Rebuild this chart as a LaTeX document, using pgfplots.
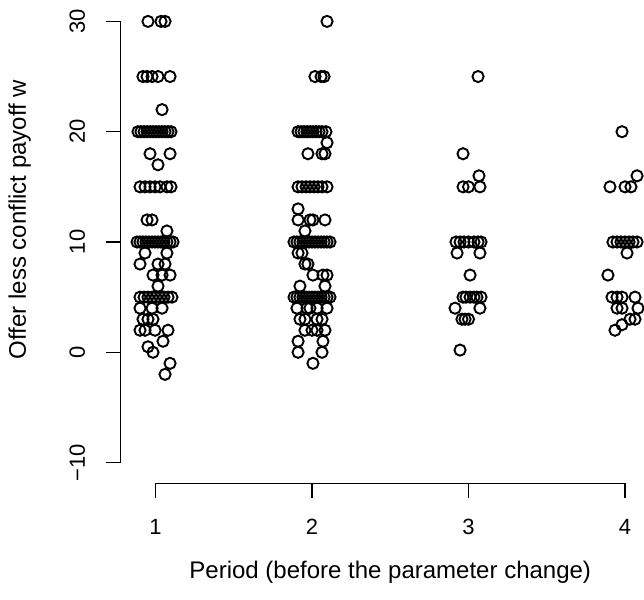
\documentclass[border=0pt]{standalone}
\usepackage{pgfplots}
\pgfplotsset{compat=1.18}
\usepackage{fontspec}
\setmainfont{Liberation Sans}
\begin{document}
\fontsize{22bp}{26bp}\selectfont
\begin{tikzpicture}
\begin{axis}[
  width=644bp, height=600bp, scale only axis,
  xmin=0.00639, xmax=4.1214, ymin=-22.457, ymax=31.94,
  axis lines=none, clip=false,
]
\addplot[only marks, mark=o, mark size=5.6bp, mark options={line width=1.9bp, black}] table {
x y
0.952 30
1.035 30
1.061 30
0.920 25
0.946 25
0.978 25
1.016 25
1.093 25
1.042 22
0.888 20
0.907 20
0.927 20
0.946 20
0.965 20
0.984 20
1.003 20
1.022 20
1.042 20
1.061 20
1.080 20
1.099 20
0.965 18
1.093 18
1.016 17
0.901 15
0.933 15
0.965 15
0.997 15
1.029 15
1.073 15
1.099 15
0.946 12
0.978 12
1.073 11
0.882 10
0.901 10
0.920 10
0.939 10
0.958 10
0.978 10
0.997 10
1.016 10
1.035 10
1.054 10
1.073 10
1.093 10
1.112 10
0.933 9
1.073 9
0.901 8
1.016 8
1.061 8
0.984 7
1.042 7
1.093 7
1.016 6
0.901 5
0.927 5
0.952 5
0.978 5
1.003 5
1.029 5
1.054 5
1.080 5
1.105 5
0.901 4
0.978 4
1.042 4
0.920 3
0.952 3
0.984 3
0.901 2
0.933 2
0.997 2
1.080 2
1.048 1
0.952 0.5
0.984 0
1.093 -1
1.061 -2
2.096 30
2.019 25
2.058 25
2.077 25
1.911 20
1.930 20
1.949 20
1.968 20
1.987 20
2.006 20
2.026 20
2.045 20
2.064 20
2.089 20
2.096 19
1.974 18
2.064 18
2.083 18
1.911 15
1.936 15
1.962 15
1.987 15
2.013 15
2.038 15
2.064 15
2.096 15
1.911 13
1.911 12
1.987 12
2.006 12
2.083 12
1.955 11
1.885 10
1.904 10
1.923 10
1.942 10
1.962 10
1.981 10
2.000 10
2.019 10
2.038 10
2.058 10
2.077 10
2.096 10
2.115 10
1.911 9
1.936 9
1.955 8
1.974 8
2.006 7
2.070 7
2.096 7
1.923 6
2.083 6
1.885 5
1.904 5
1.923 5
1.942 5
1.962 5
1.981 5
2.000 5
2.019 5
2.038 5
2.058 5
2.077 5
2.096 5
2.115 5
1.904 4
1.968 4
1.987 4
2.032 4
2.096 4
1.923 3
1.955 3
2.032 3
2.064 3
1.955 2
2.000 2
2.032 2
2.083 2
1.911 1
2.070 1
1.911 0
2.064 0
2.006 -1
3.061 25
2.965 18
3.067 16
2.965 15
3.000 15
3.073 15
2.920 10
2.946 10
2.971 10
3.000 10
3.035 10
3.061 10
3.080 10
2.927 9
3.073 9
3.010 7
2.965 5
2.984 5
3.010 5
3.035 5
3.054 5
3.080 5
2.914 4
3.073 4
2.958 3
2.978 3
3.000 3
2.946 0.2
3.981 20
4.077 16
3.904 15
4.000 15
4.038 15
3.923 10
3.949 10
3.974 10
4.000 10
4.026 10
4.051 10
4.077 10
4.013 9
3.891 7
3.917 5
3.949 5
3.981 5
4.064 5
3.949 4
3.981 4
4.083 4
4.032 3
4.064 3
3.981 2.5
3.936 2
};
% R-style axes
\draw[line width=1.5bp] (axis cs:0.7776,-10) -- (axis cs:0.7776,30);
\draw[line width=1.5bp] (axis cs:0.6818,-10) -- (axis cs:0.7776,-10);
\draw[line width=1.5bp] (axis cs:0.6818,0) -- (axis cs:0.7776,0);
\draw[line width=1.5bp] (axis cs:0.6818,10) -- (axis cs:0.7776,10);
\draw[line width=1.5bp] (axis cs:0.6818,20) -- (axis cs:0.7776,20);
\draw[line width=1.5bp] (axis cs:0.6818,30) -- (axis cs:0.7776,30);
\node[rotate=90, anchor=base, inner sep=0pt] at (axis cs:0.5495,-10) {\char"2212 10};
\node[rotate=90, anchor=base, inner sep=0pt] at (axis cs:0.5495,0) {0};
\node[rotate=90, anchor=base, inner sep=0pt] at (axis cs:0.5495,10) {10};
\node[rotate=90, anchor=base, inner sep=0pt] at (axis cs:0.5495,20) {20};
\node[rotate=90, anchor=base, inner sep=0pt] at (axis cs:0.5495,30) {30};
\draw[line width=1.5bp] (axis cs:1,-11.877) -- (axis cs:4,-11.877);
\draw[line width=1.5bp] (axis cs:1,-11.877) -- (axis cs:1,-13.237);
\draw[line width=1.5bp] (axis cs:2,-11.877) -- (axis cs:2,-13.237);
\draw[line width=1.5bp] (axis cs:3,-11.877) -- (axis cs:3,-13.237);
\draw[line width=1.5bp] (axis cs:4,-11.877) -- (axis cs:4,-13.237);
\node[anchor=base, inner sep=0pt] at (axis cs:1,-16.56) {1};
\node[anchor=base, inner sep=0pt] at (axis cs:2,-16.56) {2};
\node[anchor=base, inner sep=0pt] at (axis cs:3,-16.56) {3};
\node[anchor=base, inner sep=0pt] at (axis cs:4,-16.56) {4};
\node[anchor=base, inner sep=0pt, font=\fontsize{24bp}{28bp}\selectfont] at (axis cs:2.5,-20.55) {Period (before the parameter change)};
\node[rotate=90, anchor=base, inner sep=0pt, font=\fontsize{24bp}{28bp}\selectfont] at (axis cs:0.172,12.04) {Offer less conflict payoff w};
\path (rel axis cs:0,0) rectangle (rel axis cs:1,1);
\end{axis}
\end{tikzpicture}
\end{document}
